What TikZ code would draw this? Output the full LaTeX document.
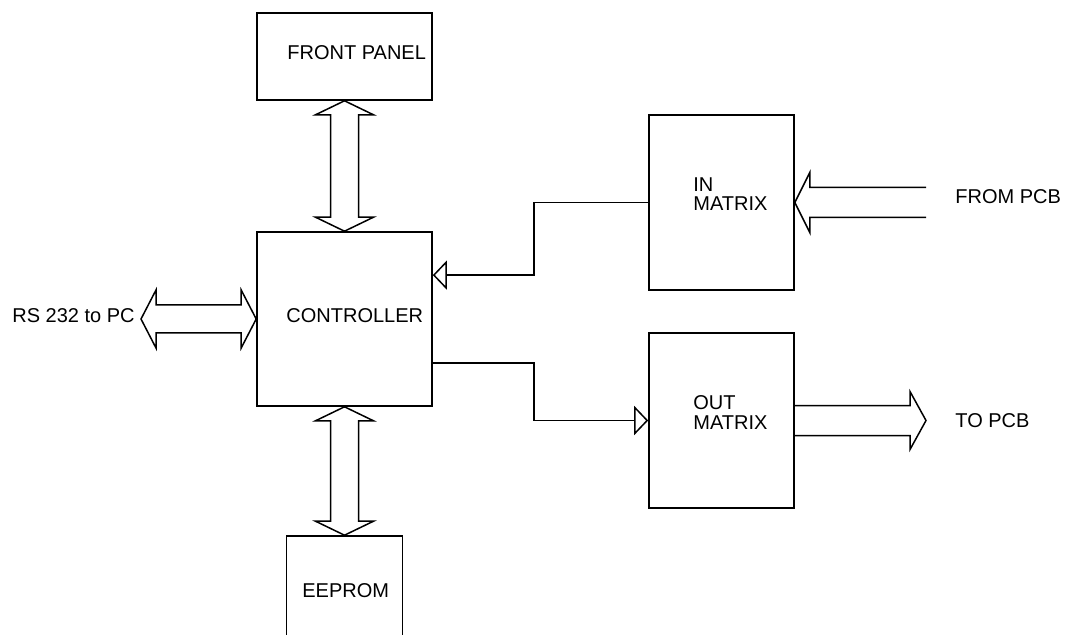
\documentclass[tikz,border=0pt]{standalone}
\usepackage{fontspec}
\setmainfont{Liberation Sans}
\usetikzlibrary{positioning, arrows.meta, calc}

\begin{document}
\begin{tikzpicture}[
    x=0.5pt, y=-0.5pt,
    block/.style 2 args={draw, line width=0.8pt, minimum width=#1, minimum height=#2, inner sep=0pt},
    lbl/.style={anchor=base west, inner sep=0pt, align=left, font=\fontsize{10}{9.9}\selectfont},
    bus/.style={draw, line width=0.75pt, line join=miter},
    sig/.style={line width=0.75pt, -{Triangle[open, length=7pt, width=14.5pt]}},
  ]
  \clip (0,0) rectangle (1068,635);

  % blocks
  \node[block={87.5pt}{43.5pt}] (front) at (344.5,56.5) {};
  \node[block={87.5pt}{87pt}] (ctrl) at (344.5,319) {};
  \node[block={58pt}{72pt}] (eeprom) at (344.5,608) {};
  \node[block={72.5pt}{87.5pt}] (inmx) at (721.5,202.5) {};
  \node[block={72.5pt}{87.5pt}] (outmx) at (721.5,420.5) {};

  % labels
  \node[lbl] (front-lbl) at (287,60) {FRONT PANEL};
  \node[lbl] (ctrl-lbl) at (286,323) {CONTROLLER};
  \node[lbl] (eeprom-lbl) at (302,597) {EEPROM};
  \node[lbl] (inmx-lbl) at (693,211) {IN\\MATRIX};
  \node[lbl] (outmx-lbl) at (693,429) {OUT\\MATRIX};
  \node[lbl] (rs-lbl) at (12,323) {RS 232 to PC};
  \node[lbl] (from-lbl) at (955,204) {FROM PCB};
  \node[lbl] (to-lbl) at (955,427) {TO PCB};

  \coordinate (rs-end) at (141,319);
  \coordinate (from-end) at (926,202.5);
  \coordinate (to-end) at (926,420.5);
  \coordinate (ctrl-in) at ($(ctrl.north east)!0.25!(ctrl.south east)$);
  \coordinate (ctrl-out) at ($(ctrl.north east)!0.75!(ctrl.south east)$);

  % wide buses
  \draw[bus] (front.south) -- ++(29,14) -- ++(-15,0) -- ($(ctrl.north)+(14,-14)$) -- ++(15,0)
    -- (ctrl.north) -- ++(-29,-14) -- ++(15,0) -- ($(front.south)+(-14,14)$) -- ++(-15,0) -- cycle;
  \draw[bus] (ctrl.south) -- ++(29,14) -- ++(-15,0) -- ($(eeprom.north)+(14,-14)$) -- ++(15,0)
    -- (eeprom.north) -- ++(-29,-14) -- ++(15,0) -- ($(ctrl.south)+(-14,14)$) -- ++(-15,0) -- cycle;
  \draw[bus] (ctrl.west) -- ++(-15,-29) -- ++(0,15) -- ($(rs-end)+(15,-14)$) -- ++(0,-15)
    -- (rs-end) -- ++(15,29) -- ++(0,-15) -- ($(ctrl.west)+(-15,14)$) -- ++(0,15) -- cycle;
  \draw[bus] ($(from-end)+(0,-15)$) -- ($(inmx.east)+(15,-15)$) -- ++(0,-15) -- (inmx.east)
    -- ++(15,30) -- ++(0,-15) -- ($(from-end)+(0,15)$);
  \draw[bus] ($(outmx.east)+(0,-15)$) -- ($(to-end)+(-16,-15)$) -- ++(0,-14) -- (to-end)
    -- ++(-16,29) -- ++(0,-14) -- ($(outmx.east)+(0,15)$);

  % signal lines
  \draw[sig] (inmx.west) -| ($(ctrl-in)+(101,0)$) -- (ctrl-in);
  \draw[sig] (ctrl-out) -- ++(101,0) |- (outmx.west);
\end{tikzpicture}
\end{document}
